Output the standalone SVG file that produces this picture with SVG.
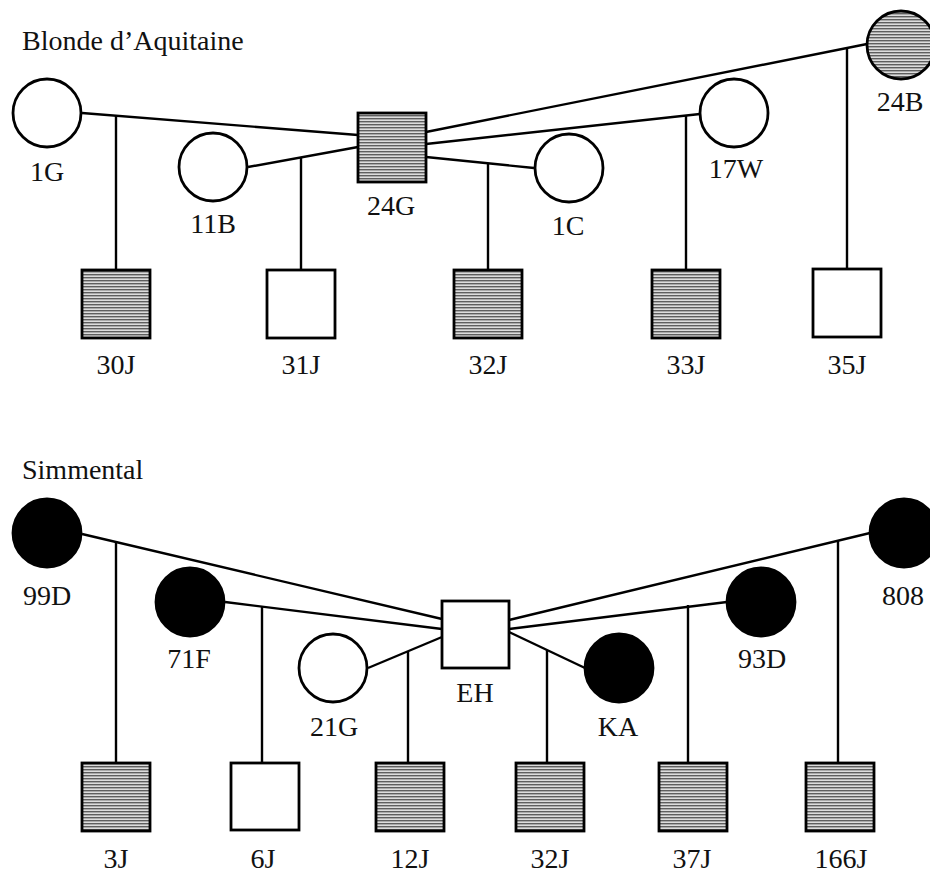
<svg xmlns="http://www.w3.org/2000/svg" width="930" height="873" viewBox="0 0 930 873">
  <style>
    .bg { fill: #ffffff; }
    .shape { stroke: #000; stroke-width: 2.8; }
    .open { fill: #ffffff; }
    .hatched { fill: url(#stripes); }
    .solid { fill: #000; }
    .link { stroke: #000; stroke-width: 2.4; fill: none; }
    text { font-family: "Liberation Serif", "Times New Roman", serif; font-size: 28px; fill: #111; }
    .lbl { text-anchor: middle; }
  </style>
  <defs>
    <pattern id="stripes" patternUnits="userSpaceOnUse" width="8" height="3">
      <rect width="8" height="3" fill="#dcdcdc"/>
      <rect y="1" width="8" height="1.4" fill="#5e5e5e"/>
    </pattern>
  </defs>
  <rect class="bg" width="930" height="873"/>

  <!-- Breed headings -->
  <text x="22" y="50">Blonde d’Aquitaine</text>
  <text x="22" y="479">Simmental</text>

  <!-- Mating and descent lines -->
  <g id="connectors">
    <!-- Blonde d'Aquitaine -->
    <line class="link" x1="82" y1="113" x2="358" y2="135"/>
    <line class="link" x1="116" y1="116" x2="116" y2="270"/>
    <line class="link" x1="248" y1="167" x2="358" y2="147"/>
    <line class="link" x1="301" y1="158" x2="301" y2="270"/>
    <line class="link" x1="426" y1="132" x2="867" y2="44"/>
    <line class="link" x1="847" y1="48" x2="847" y2="270"/>
    <line class="link" x1="426" y1="144" x2="700" y2="114"/>
    <line class="link" x1="686" y1="116" x2="686" y2="270"/>
    <line class="link" x1="426" y1="157" x2="534" y2="168"/>
    <line class="link" x1="488" y1="163" x2="488" y2="270"/>
    <!-- Simmental -->
    <line class="link" x1="82" y1="534" x2="442" y2="619"/>
    <line class="link" x1="116" y1="541" x2="116" y2="763"/>
    <line class="link" x1="225" y1="602" x2="442" y2="629"/>
    <line class="link" x1="262" y1="607" x2="262" y2="763"/>
    <line class="link" x1="368" y1="668" x2="442" y2="637"/>
    <line class="link" x1="408" y1="652" x2="408" y2="763"/>
    <line class="link" x1="509" y1="620" x2="870" y2="533"/>
    <line class="link" x1="838" y1="541" x2="838" y2="763"/>
    <line class="link" x1="509" y1="629" x2="727" y2="602"/>
    <line class="link" x1="688" y1="605" x2="688" y2="763"/>
    <line class="link" x1="509" y1="632" x2="585" y2="668"/>
    <line class="link" x1="547" y1="650" x2="547" y2="763"/>
  </g>

  <!-- Blonde d'Aquitaine parents -->
  <g id="n1G"><circle class="shape open" cx="47" cy="113" r="34"/><text class="lbl" x="47" y="181">1G</text></g>
  <g id="n11B"><circle class="shape open" cx="213" cy="167" r="34"/><text class="lbl" x="213" y="233">11B</text></g>
  <g id="n24G"><rect class="shape hatched" x="358" y="113" width="68" height="69"/><text class="lbl" x="391" y="215">24G</text></g>
  <g id="n1C"><circle class="shape open" cx="569" cy="168" r="34"/><text class="lbl" x="568" y="235">1C</text></g>
  <g id="n17W"><circle class="shape open" cx="734" cy="113" r="34"/><text class="lbl" x="736" y="178">17W</text></g>
  <g id="n24B"><circle class="shape hatched" cx="901" cy="45" r="34"/><text class="lbl" x="900" y="111">24B</text></g>

  <!-- Blonde d'Aquitaine offspring -->
  <g id="n30J"><rect class="shape hatched" x="82" y="270" width="68" height="68"/><text class="lbl" x="116" y="374">30J</text></g>
  <g id="n31J"><rect class="shape open" x="267" y="270" width="68" height="68"/><text class="lbl" x="301" y="374">31J</text></g>
  <g id="n32J-top"><rect class="shape hatched" x="454" y="270" width="68" height="68"/><text class="lbl" x="488" y="374">32J</text></g>
  <g id="n33J"><rect class="shape hatched" x="652" y="270" width="68" height="68"/><text class="lbl" x="686" y="374">33J</text></g>
  <g id="n35J"><rect class="shape open" x="813" y="269" width="68" height="68"/><text class="lbl" x="847" y="374">35J</text></g>

  <!-- Simmental parents -->
  <g id="n99D"><circle class="shape solid" cx="47" cy="533" r="34"/><text class="lbl" x="47" y="605">99D</text></g>
  <g id="n71F"><circle class="shape solid" cx="190" cy="602" r="34"/><text class="lbl" x="189" y="668">71F</text></g>
  <g id="n21G"><circle class="shape open" cx="333" cy="668" r="34"/><text class="lbl" x="334" y="736">21G</text></g>
  <g id="nEH"><rect class="shape open" x="442" y="601" width="67" height="67"/><text class="lbl" x="475" y="702">EH</text></g>
  <g id="nKA"><circle class="shape solid" cx="619" cy="668" r="34"/><text class="lbl" x="618" y="736">KA</text></g>
  <g id="n93D"><circle class="shape solid" cx="761" cy="602" r="34"/><text class="lbl" x="762" y="668">93D</text></g>
  <g id="n808"><circle class="shape solid" cx="904" cy="533" r="34"/><text class="lbl" x="903" y="605">808</text></g>

  <!-- Simmental offspring -->
  <g id="n3J"><rect class="shape hatched" x="82" y="763" width="68" height="68"/><text class="lbl" x="116" y="868">3J</text></g>
  <g id="n6J"><rect class="shape open" x="231" y="763" width="68" height="67"/><text class="lbl" x="263" y="868">6J</text></g>
  <g id="n12J"><rect class="shape hatched" x="376" y="763" width="68" height="68"/><text class="lbl" x="410" y="868">12J</text></g>
  <g id="n32J-bottom"><rect class="shape hatched" x="516" y="763" width="68" height="68"/><text class="lbl" x="550" y="868">32J</text></g>
  <g id="n37J"><rect class="shape hatched" x="659" y="763" width="68" height="68"/><text class="lbl" x="692" y="868">37J</text></g>
  <g id="n166J"><rect class="shape hatched" x="806" y="763" width="68" height="68"/><text class="lbl" x="841" y="868">166J</text></g>
</svg>
